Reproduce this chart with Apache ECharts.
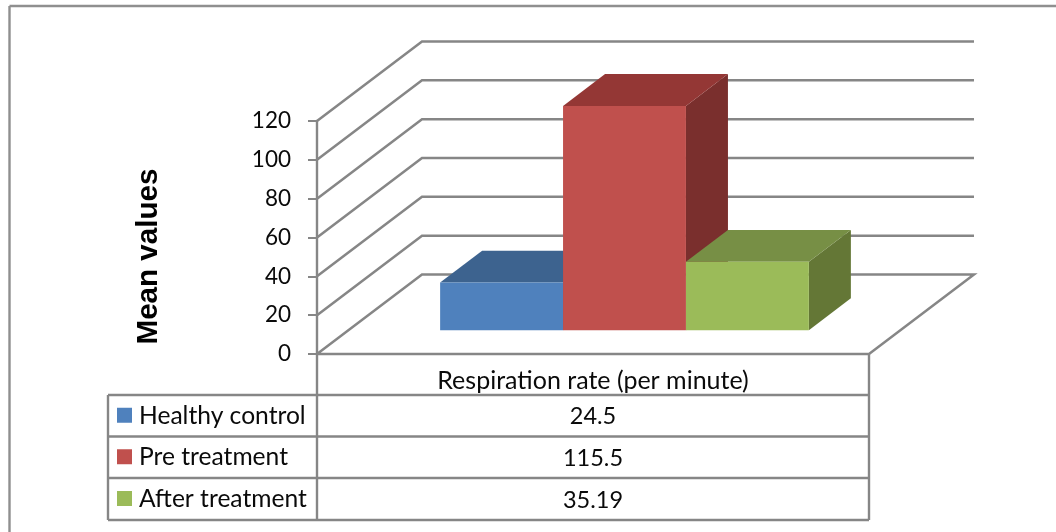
<!DOCTYPE html>
<html>
<head>
<meta charset="utf-8">
<style>html,body{margin:0;padding:0;background:#fff}#c{width:1056px;height:532px}</style>
<script src="https://cdn.jsdelivr.net/npm/echarts@6/dist/echarts.min.js"></script>
</head>
<body>
<div id="c"></div>
<script>
var categories = ['Respiration rate (per minute)'];
var seriesNames = ['Healthy control', 'Pre treatment', 'After treatment'];
var healthyControl = [24.5];
var preTreatment = [115.5];
var afterTreatment = [35.19];
var tableLabels = ['24.5', '115.5', '35.19'];
var yTicks = [0, 20, 40, 60, 80, 100, 120];
var yAxisTitle = 'Mean values';

var colors = [
  {front: '#4F81BD', top: '#3D638F', side: '#3A5F8B'},
  {front: '#C0504D', top: '#943735', side: '#7A2F2D'},
  {front: '#9BBB59', top: '#778F45', side: '#647736'}
];
var LINE = '#868686';
var FONT = 'Lato';
var TEXT = '#0a0a0a';
var DX = 105, DY = -79.5;      // depth vector of the floor
var G = {left: 317, top: 121, width: 552, height: 233};
var BAR_SHARE = 0.668, DEPTH_START = 0.30, DEPTH_SPAN = 0.40;

function wallItem(params, api) {
  var cs = params.coordSys;
  var y = api.coord([0, api.value(0)])[1];
  var x = cs.x, w = cs.width;
  var pts = [[x, y], [x + DX, y + DY], [x + w + DX, y + DY]];
  if (api.value(0) === 0) { pts.push([x + w, y], [x, y]); }
  return {type: 'polyline', shape: {points: pts},
    style: {fill: 'none', stroke: LINE, lineWidth: 2.5}};
}

function barItem(idx) {
  return function (params, api) {
    var c = colors[idx];
    var band = api.size([1, 0])[0];
    var top = api.coord([0, api.value(1)]);
    var base = api.coord([0, 0]);
    var bw = band * BAR_SHARE / 3;
    var ox = DX * DEPTH_START, oy = DY * DEPTH_START;
    var dx = DX * DEPTH_SPAN, dy = DY * DEPTH_SPAN;
    var x0 = top[0] - band * BAR_SHARE / 2 + idx * bw + ox;
    var x1 = x0 + bw;
    var yb = base[1] + oy, yt = top[1] + oy;
    return {type: 'group', children: [
      {type: 'polygon', shape: {points: [[x1, yt], [x1 + dx, yt + dy], [x1 + dx, yb + dy], [x1, yb]]}, style: {fill: c.side}},
      {type: 'polygon', shape: {points: [[x0, yt], [x0 + dx, yt + dy], [x1 + dx, yt + dy], [x1, yt]]}, style: {fill: c.top}},
      {type: 'rect', shape: {x: x0, y: yt, width: bw, height: yb - yt}, style: {fill: c.front}}
    ]};
  };
}

function barData(vals) { return vals.map(function (v, i) { return [i, v]; }); }

function hLine(x1, x2, y) { return {type: 'line', shape: {x1: x1, y1: y, x2: x2, y2: y}, style: {stroke: LINE, lineWidth: 2.4}}; }
function vLine(x, y1, y2) { return {type: 'line', shape: {x1: x, y1: y1, x2: x, y2: y2}, style: {stroke: LINE, lineWidth: 2.4}}; }

var rowY = [395, 436.5, 478, 520];
var graphics = [
  {type: 'line', shape: {x1: 9.5, y1: 6, x2: 1056, y2: 6}, style: {stroke: '#8f8f8f', lineWidth: 2.4}},
  {type: 'line', shape: {x1: 9.5, y1: 6, x2: 9.5, y2: 532}, style: {stroke: '#8f8f8f', lineWidth: 2.4}},
  vLine(108, 395, 520), vLine(317, 354, 520), vLine(869, 354, 520),
  {type: 'text', x: 149, y: 256.5, rotation: Math.PI / 2,
    style: {x: 0, y: 0, text: yAxisTitle, font: 'bold 29.6px "Liberation Sans"', fill: '#000', textAlign: 'center', textVerticalAlign: 'middle'}}
];
rowY.forEach(function (y) { graphics.push(hLine(108, 869, y)); });
seriesNames.forEach(function (name, i) {
  var cy = (rowY[i] + rowY[i + 1]) / 2;
  graphics.push({type: 'rect', shape: {x: 117, y: cy - 8, width: 15, height: 15}, style: {fill: colors[i].front}});
  graphics.push({type: 'text', style: {x: 139, y: cy, text: name, font: '24.6px ' + FONT, fill: TEXT, textAlign: 'left', textVerticalAlign: 'middle'}});
  graphics.push({type: 'text', style: {x: 593, y: cy + 1, text: tableLabels[i], font: '23.5px ' + FONT, fill: TEXT, textAlign: 'center', textVerticalAlign: 'middle'}});
});

var option = {
  animation: false,
  backgroundColor: '#fff',
  grid: {left: G.left, top: G.top, width: G.width, height: G.height, containLabel: false},
  xAxis: {type: 'category', data: categories, boundaryGap: true,
    axisLine: {show: false}, axisTick: {show: false},
    axisLabel: {fontFamily: FONT, fontSize: 25, color: TEXT, margin: 14, interval: 0}},
  yAxis: {type: 'value', min: 0, max: 120, interval: 20,
    axisLine: {show: true, lineStyle: {color: LINE, width: 2.4}},
    axisTick: {show: true, length: 9, lineStyle: {color: LINE, width: 2}},
    splitLine: {show: false},
    axisLabel: {fontFamily: FONT, fontSize: 22.5, color: TEXT, margin: 26, padding: [3, 0, 0, 0]}},
  graphic: {elements: graphics},
  series: [
    {type: 'custom', name: 'walls', silent: true, coordinateSystem: 'cartesian2d', clip: false, renderItem: wallItem,
      data: yTicks.map(function (v) { return [v]; }), encode: {y: 0}, z: 1},
    {type: 'custom', name: seriesNames[0], coordinateSystem: 'cartesian2d', renderItem: barItem(0), data: barData(healthyControl), encode: {x: 0, y: 1}, z: 2},
    {type: 'custom', name: seriesNames[1], coordinateSystem: 'cartesian2d', renderItem: barItem(1), data: barData(preTreatment), encode: {x: 0, y: 1}, z: 3},
    {type: 'custom', name: seriesNames[2], coordinateSystem: 'cartesian2d', renderItem: barItem(2), data: barData(afterTreatment), encode: {x: 0, y: 1}, z: 4}
  ]
};
var chart = echarts.init(document.getElementById('c'), null, {renderer: 'canvas'});
chart.setOption(option);
</script>
</body>
</html>
